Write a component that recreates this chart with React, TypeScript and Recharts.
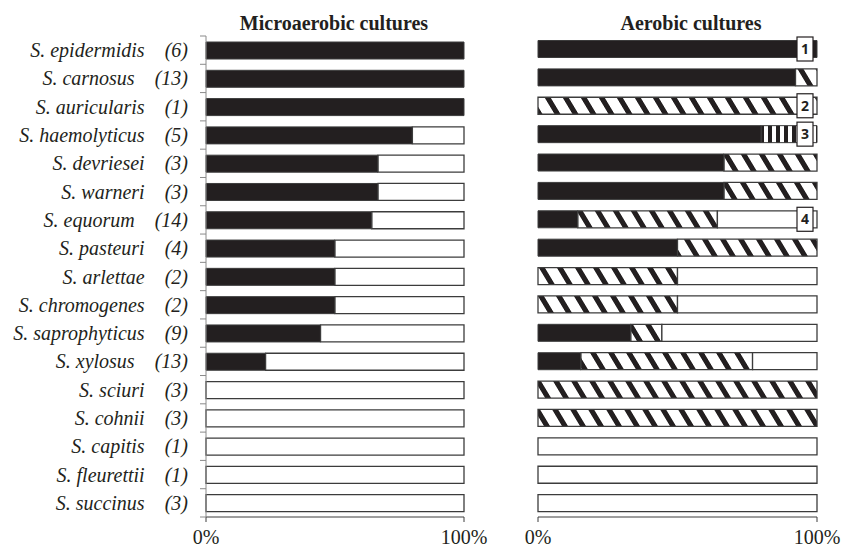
import { BarChart, Bar, XAxis, YAxis, LabelList } from "recharts";

const species = [
  "S. epidermidis",
  "S. carnosus",
  "S. auricularis",
  "S. haemolyticus",
  "S. devriesei",
  "S. warneri",
  "S. equorum",
  "S. pasteuri",
  "S. arlettae",
  "S. chromogenes",
  "S. saprophyticus",
  "S. xylosus",
  "S. sciuri",
  "S. cohnii",
  "S. capitis",
  "S. fleurettii",
  "S. succinus",
];
const isolates = [6, 13, 1, 5, 3, 3, 14, 4, 2, 2, 9, 13, 3, 3, 1, 1, 3];

// microaerobic: % growing (black) / not growing (white)
const microBlack = [100, 100, 100, 80, 66.7, 66.7, 64.3, 50, 50, 50, 44.4, 23.1, 0, 0, 0, 0, 0];
const microWhite = [0, 0, 0, 20, 33.3, 33.3, 35.7, 50, 50, 50, 55.6, 76.9, 100, 100, 100, 100, 100];

// aerobic: black / hatched / vertical stripes / white
const aeroBlack = [100, 92.3, 0, 80, 66.7, 66.7, 14.3, 50, 0, 0, 33.3, 15.4, 0, 0, 0, 0, 0];
const aeroHatch = [0, 7.7, 100, 0, 33.3, 33.3, 50, 50, 50, 50, 11.1, 61.5, 100, 100, 0, 0, 0];
const aeroStripe = [0, 0, 0, 20, 0, 0, 0, 0, 0, 0, 0, 0, 0, 0, 0, 0, 0];
const aeroWhite = [0, 0, 0, 0, 0, 0, 35.7, 0, 50, 50, 55.6, 23.1, 0, 0, 100, 100, 100];
const notes = ["1", "", "2", "3", "", "", "4", "", "", "", "", "", "", "", "", "", ""];

const xTicks = [0, 100];

const microData = species.map((name, i) => ({
  name,
  black: microBlack[i],
  white: microWhite[i],
}));

const aeroKeys = ["black", "hatch", "stripe", "white"] as const;

const aeroData = species.map((name, i) => ({
  name,
  black: aeroBlack[i],
  hatch: aeroHatch[i],
  stripe: aeroStripe[i],
  white: aeroWhite[i],
  note: notes[i],
}));

// the segment that ends the bar carries the note box
const lastKey = (row: any) => {
  let k = "";
  aeroKeys.forEach((key) => {
    if (row[key] > 0) k = key;
  });
  return k;
};

const W = 841;
const H = 547;
const TOP = 36;
const AERO_TOP = 34.5;
const BOTTOM = 517;
const band = (BOTTOM - TOP) / species.length;
const aeroBand = (BOTTOM - AERO_TOP) / species.length;

const ink = "#231f20";
const edge = "#3c3c3c";
const serif = '"Liberation Serif", "Times New Roman", serif';

function SpeciesTick(props: any) {
  const { x, y, payload } = props;
  const i = species.indexOf(payload.value);
  const last = i === species.length - 1;
  return (
    <g>
      <line x1={x + 12} x2={x + 18} y1={y - band / 2} y2={y - band / 2} stroke="#8a8a8a" />
      {last && (
        <line x1={x + 12} x2={x + 18} y1={y + band / 2} y2={y + band / 2} stroke="#8a8a8a" />
      )}
      <text
        x={x}
        y={y}
        dy="0.35em"
        textAnchor="end"
        fontStyle="italic"
        fontSize={20}
        fontFamily={serif}
        fill={ink}
      >
        <tspan>{payload.value}</tspan>
        <tspan dx={20}>({isolates[i]})</tspan>
      </text>
    </g>
  );
}

const noteBox = (seriesKey: string) => (props: any) => {
  const vb = props.viewBox ?? props;
  if (!vb || vb.width === undefined) return null;
  const cy = vb.y + vb.height / 2;
  const row = aeroData[Math.floor((cy - AERO_TOP) / aeroBand)];
  if (!row || !row.note || lastKey(row) !== seriesKey) return null;
  const right = vb.x + vb.width;
  return (
    <g>
      <rect x={right - 20} y={cy - 12} width={16} height={24} fill="#fff" stroke={ink} strokeWidth={1.2} />
      <text
        x={right - 12}
        y={cy}
        dy="0.36em"
        textAnchor="middle"
        fontSize={14}
        fontWeight={700}
        fontFamily='"Open Sans", "DejaVu Sans", sans-serif'
        fill={ink}
      >
        {row.note}
      </text>
    </g>
  );
};

const xAxisProps = {
  type: "number" as const,
  domain: [0, 100],
  ticks: xTicks,
  tickFormatter: (v: number) => `${v}%`,
  tickSize: 5,
  tickMargin: 8,
  height: 25,
  axisLine: { stroke: edge },
  tickLine: { stroke: edge },
  tick: { fontSize: 20, fontFamily: serif, fill: ink },
};

const aeroFill: Record<string, string> = {
  black: ink,
  hatch: "url(#hatch)",
  stripe: "url(#vstripes)",
  white: "#fff",
};

export default function App() {
  return (
    <div style={{ position: "absolute", left: 0, top: 0, width: W, height: H, background: "#fff" }}>
      <svg width={0} height={0} style={{ position: "absolute" }}>
        <defs>
          <pattern id="hatch" patternUnits="userSpaceOnUse" width={18} height={18} patternTransform="skewX(31)">
            <rect width={18} height={18} fill="#fff" />
            <rect width={6} height={18} fill={ink} />
          </pattern>
          <pattern id="vstripes" patternUnits="userSpaceOnUse" width={8} height={8}>
            <rect width={8} height={8} fill="#fff" />
            <rect width={4} height={8} fill={ink} />
          </pattern>
        </defs>
      </svg>

      <div style={{ position: "absolute", left: 0, top: 0 }}>
        <BarChart
          width={W}
          height={H}
          layout="vertical"
          data={microData}
          margin={{ top: TOP, right: W - 464, bottom: H - BOTTOM - 25, left: 0 }}
        >
          <XAxis {...xAxisProps} />
          <YAxis
            type="category"
            dataKey="name"
            width={206}
            axisLine={{ stroke: "#8a8a8a" }}
            tickLine={false}
            tickSize={6}
            tickMargin={12}
            tick={<SpeciesTick />}
            interval={0}
          />
          <Bar dataKey="black" stackId="a" fill={ink} stroke={edge} barSize={17} isAnimationActive={false} />
          <Bar dataKey="white" stackId="a" fill="#fff" stroke={edge} strokeWidth={1.3} barSize={17} isAnimationActive={false} />
        </BarChart>
      </div>

      <div style={{ position: "absolute", left: 0, top: 0 }}>
        <BarChart
          width={W}
          height={H}
          layout="vertical"
          data={aeroData}
          margin={{ top: AERO_TOP, right: W - 817, bottom: H - BOTTOM - 25, left: 538 }}
        >
          <XAxis {...xAxisProps} />
          <YAxis type="category" dataKey="name" hide />
          {aeroKeys.map((key) => (
            <Bar
              key={key}
              dataKey={key}
              stackId="a"
              fill={aeroFill[key]}
              stroke={edge}
              strokeWidth={key === "black" || key === "stripe" ? 1 : 1.3}
              barSize={17}
              isAnimationActive={false}
            >
              <LabelList dataKey="note" content={noteBox(key)} />
            </Bar>
          ))}
        </BarChart>
      </div>

      <svg width={W} height={H} style={{ position: "absolute", left: 0, top: 0, pointerEvents: "none" }}>
        <text x={334} y={30} textAnchor="middle" fontSize={20} fontWeight={700} fontFamily={serif} fill={ink}>
          Microaerobic cultures
        </text>
        <text x={691} y={30} textAnchor="middle" fontSize={20} fontWeight={700} fontFamily={serif} fill={ink}>
          Aerobic cultures
        </text>
      </svg>
    </div>
  );
}
